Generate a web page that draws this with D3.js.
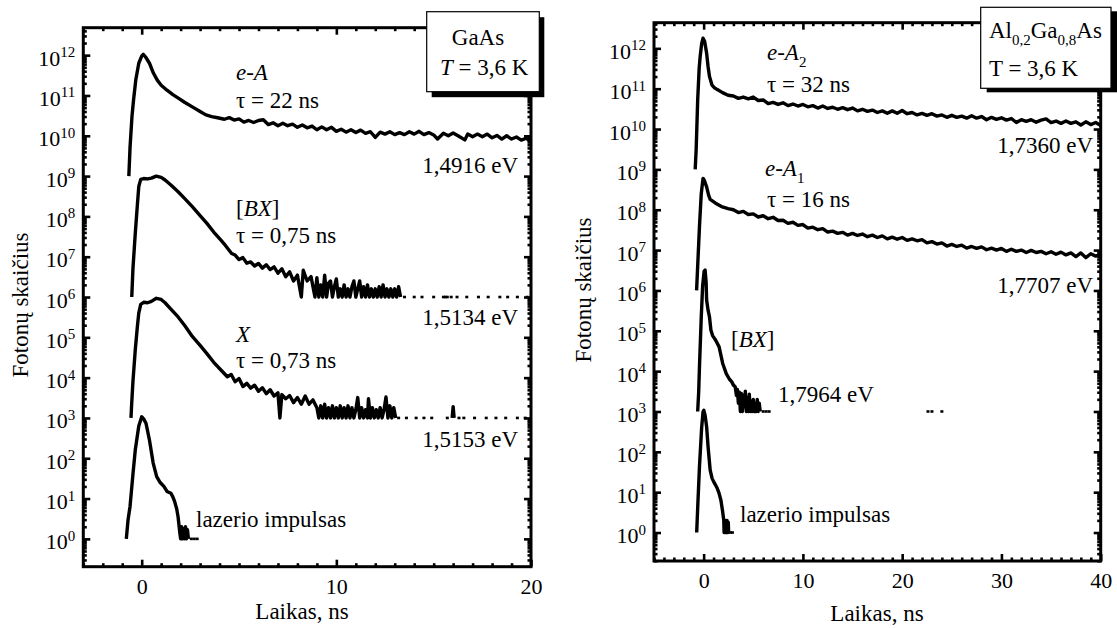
<!DOCTYPE html>
<html><head><meta charset="utf-8">
<script src="https://cdn.jsdelivr.net/npm/d3@7"></script>
<style>
body{margin:0;background:#fff}
svg{display:block}
</style>
</head><body>
<svg id="c" width="1117" height="628"></svg>
<script>
// ================= DATA =================
const yDecades = [0,1,2,3,4,5,6,7,8,9,10,11,12];
const gaasXTicks = [0,10,20];
const algaXTicks = [0,10,20,30,40];

// ---- GaAs, e-A (1,4916 eV) ----
const gaasEA_t = [-0.66,-0.6,-0.5,-0.42,-0.3,-0.15,0,0.08,0.2,0.4,0.6,0.8,1.0,1.3,1.6,1.9,2.2,2.6,3.0,3.3,3.6,3.9,
 4.25,4.5,4.75,5.0,5.25,5.5,5.75,6.0,6.25,6.5,6.75,7.0,7.25,7.5,7.75,8.0,8.25,8.5,8.75,9.0,9.25,9.5,9.75,10.0,
 10.25,10.5,10.75,11.0,11.25,11.5,11.75,12.0,12.25,12.5,12.75,13.0,13.25,13.5,13.75,14.0,14.25,14.5,14.75,15.0,
 15.2,15.5,15.75,16.0,16.25,16.6,16.75,17.0,17.25,17.5,17.75,18.0,18.25,18.5,18.75,19.0,19.25,19.5,19.75,20.0];
const gaasEA_v = [1e9,5e9,3e10,7.6e10,2.5e11,6.3e11,9.5e11,1.05e12,9e11,6.3e11,3.6e11,2.4e11,1.8e11,1.35e11,1.05e11,8.5e10,6.8e10,5.2e10,4.0e10,3.3e10,3.0e10,2.8e10,
 2.57e10,2.82e10,2.45e10,2.63e10,2.19e10,2.4e10,2.14e10,2.4e10,2.5e10,1.9e10,2.1e10,1.78e10,2.04e10,1.78e10,1.95e10,1.62e10,1.86e10,1.58e10,1.74e10,1.41e10,1.66e10,1.41e10,1.62e10,1.29e10,
 1.45e10,1.23e10,1.41e10,1.2e10,1.38e10,1.15e10,1.26e10,9.1e9,1.23e10,1.1e10,1.26e10,1.07e10,1.2e10,1.07e10,1.26e10,1.1e10,1.29e10,1.07e10,1.2e10,1.05e10,
 8.3e9,1.15e10,1.0e10,1.17e10,1.0e10,7.9e9,1.1e10,9.5e9,1.1e10,9.5e9,1.1e10,8.9e9,1.02e10,8.3e9,1.0e10,8.3e9,9.3e9,7.8e9,8.7e9,7.1e9];

// ---- GaAs, [BX] (1,5134 eV) ----
const gaasBX_t = [-0.51,-0.45,-0.33,-0.22,-0.15,-0.05,0.1,0.3,0.5,0.75,1.0,1.2,1.5,1.87,2.2,2.6,3.0,3.34,3.7,4.07,
 4.3,4.62,4.8,5.0,5.2,5.4,5.6,5.8,6.0,6.2,6.4,6.6,6.8,7.0,7.2,7.4,7.6,7.8,8.0,8.2,8.3,8.5,8.7,8.9,
 9.0,9.1,9.2,9.3,9.4,9.5,9.6,9.7,9.8,9.9,10.0,10.1,10.2,10.3,10.4,10.5,10.6,10.7,10.8,10.9,11.0,11.1,11.2,11.3,11.4,
 11.5,11.6,11.7,11.8,11.9,12.0,12.1,12.2,12.3,12.4,12.5,12.6,12.7,12.8,12.9,13.0,13.1,13.2,13.3];
const gaasBX_v = [1e6,5e6,3.8e7,2e8,5.5e8,8.3e8,8.7e8,8.5e8,8.9e8,1e9,9.3e8,8e8,6e8,4.1e8,2.8e8,1.74e8,1.05e8,6.8e7,4.1e7,2.57e7,
 1.9e7,1.2e7,1.1e7,8.5e6,9.5e6,6.9e6,7.4e6,5.9e6,6.8e6,5.2e6,6.3e6,4.8e6,5.6e6,3.9e6,5e6,3.2e6,4.2e6,2.5e6,3.5e6,1e6,4.6e6,2.5e6,3.2e6,1e6,
 3e6,1e6,2e6,1e6,3.5e6,1e6,2.2e6,2.5e6,1e6,1.8e6,2.8e6,1e6,1.6e6,1e6,2e6,1e6,1.6e6,1e6,1.8e6,2.5e6,1e6,1.6e6,2.5e6,1e6,1.8e6,
 1e6,2e6,1e6,1.6e6,1e6,1.6e6,1e6,1.8e6,1e6,2e6,1e6,1.6e6,1e6,1.6e6,1e6,1.6e6,1e6,1.8e6,1e6];
const gaasBX_floor = 1e6;
const gaasBX_dots = [13.5,14.0,14.4,15.0,15.5,15.6,15.7,15.9,16.2,16.7,17.3,17.8,18.4,18.8,19.3,19.8];

// ---- GaAs, X (1,5153 eV) ----
const gaasX_t = [-0.55,-0.52,-0.45,-0.33,-0.22,-0.15,-0.05,0.1,0.3,0.5,0.75,1.0,1.2,1.5,1.87,2.2,2.6,3.0,3.34,3.7,
 4.07,4.4,4.6,4.8,5.0,5.2,5.4,5.6,5.8,6.0,6.2,6.4,6.6,6.8,7.0,7.1,7.2,7.4,7.6,7.8,8.0,8.2,8.4,8.6,8.8,
 9.0,9.1,9.2,9.3,9.4,9.5,9.6,9.7,9.8,9.9,10.0,10.1,10.2,10.3,10.4,10.5,10.6,10.7,10.8,10.9,11.0,11.1,11.2,11.3,11.4,11.5,11.6,
 11.65,11.75,11.85,11.95,12.05,12.15,12.25,12.35,12.45,12.55,12.65,12.75,12.85,12.95,13.05];
const gaasX_v = [1e3,2e3,8e3,4.9e4,1.9e5,4e5,6.6e5,7.4e5,7.2e5,7.8e5,9.3e5,8.7e5,7.2e5,5e5,3.2e5,2e5,1.05e5,6.3e4,4e4,2.4e4,
 1.55e4,1.05e4,1.2e4,7.9e3,9.5e3,6e3,7.2e3,5.5e3,6.5e3,4.6e3,5.6e3,4e3,5e3,3.5e3,4.2e3,1e3,3.8e3,3e3,3.6e3,2.4e3,3.2e3,2.2e3,3.5e3,2.2e3,2.8e3,
 1.8e3,1e3,2e3,1e3,2.2e3,1e3,1.8e3,1e3,2e3,1e3,1.8e3,1e3,2e3,1e3,1.8e3,1e3,2e3,1e3,1.8e3,1e3,1.6e3,3.2e3,1e3,1.8e3,1e3,1.6e3,1e3,
 3e3,1e3,1.8e3,1e3,1.6e3,1e3,1.8e3,1e3,1.6e3,3.3e3,1e3,2e3,1e3,1.8e3,1e3];
const gaasX_floor = 1e3;
const gaasX_dots = [13.2,13.6,14.1,14.5,14.9,15.7,16.3,16.55,17.1,17.7,18.2,18.7,19.3,19.7];
const gaasX_spike_t = [15.95,16.0,16.05];
const gaasX_spike_v = [1e3,1.9e3,1e3];

// ---- GaAs, laser pulse ----
const gaasLas_t = [-0.79,-0.7,-0.6,-0.45,-0.33,-0.15,0,0.1,0.22,0.4,0.59,0.77,0.95,1.14,1.3,1.5,1.6,1.69,1.8,1.87,1.96,2.0,2.05,2.1,2.15,2.2,2.25,2.3,2.35,2.4];
const gaasLas_v = [1,3,6.3,40,160,630,1070,950,740,280,76,35,25,20,15,13.5,11,8.5,5.5,3.5,1.4,1,2,1,1.8,1,2,1,1.7,1];
const gaasLas_floor = 1;
const gaasLas_dots = [2.55,2.7,2.85];

// ---- AlGaAs, e-A2 (1,7360 eV) ----
const algaEA2_t = [-0.85,-0.75,-0.6,-0.45,-0.35,-0.2,-0.06,0.1,0.3,0.45,0.59,0.84,1.1,1.38,1.9,2.46,
 3.0,3.5,4.0,4.5,5.0,5.5,6.0,6.5,7.0,7.5,8.0,8.5,9.0,9.5,10.0,10.5,11.0,11.5,12.0,12.5,13.0,13.5,14.0,14.5,15.0,15.5,16.0,16.5,17.0,17.5,
 18.0,18.5,19.0,19.5,20.0,20.5,21.0,21.5,22.0,22.5,23.0,23.5,24.0,24.5,25.0,25.5,26.0,26.5,27.0,27.5,28.0,28.5,29.0,29.5,30.0,30.5,31.0,31.5,32.0,32.5,
 33.0,33.5,34.0,34.5,35.0,35.5,36.0,36.5,37.0,37.5,38.0,38.5,39.0,39.5,40.0];
const algaEA2_v = [1e9,3.2e9,5.2e10,3.2e11,6.2e11,1.3e12,1.78e12,1.5e12,7.6e11,3.5e11,2e11,1.23e11,1.05e11,9.5e10,8e10,6.9e10,
 6.6e10,5.75e10,6.2e10,5.6e10,6.2e10,5.1e10,5.25e10,4.27e10,4.57e10,4.07e10,4.47e10,3.8e10,4.17e10,3.72e10,4.07e10,3.55e10,3.8e10,3.31e10,3.72e10,3.24e10,
 3.47e10,3.09e10,3.39e10,3.02e10,3.31e10,2.82e10,3.09e10,2.75e10,2.95e10,2.57e10,2.82e10,2.45e10,2.82e10,2.45e10,2.88e10,2.4e10,2.57e10,2.24e10,2.45e10,2.19e10,
 2.4e10,2.09e10,2.24e10,1.95e10,2.19e10,1.95e10,2.09e10,1.86e10,2.14e10,1.86e10,2.04e10,1.7e10,1.95e10,1.74e10,1.9e10,1.66e10,1.82e10,1.45e10,1.7e10,1.55e10,
 1.7e10,1.48e10,1.66e10,1.78e10,1.45e10,1.58e10,1.38e10,1.58e10,1.38e10,1.51e10,1.26e10,1.51e10,1.29e10,1.45e10,1.23e10];

// ---- AlGaAs, e-A1 (1,7707 eV) ----
const algaEA1_t = [-0.71,-0.6,-0.42,-0.24,-0.06,0.05,0.3,0.5,0.66,1.2,1.8,2.46,
 3.0,3.5,4.0,4.5,5.0,5.5,6.0,6.5,7.0,7.5,8.0,8.5,9.0,9.5,10.0,10.5,11.0,11.5,12.0,12.5,13.0,13.5,14.0,14.5,15.0,15.5,16.0,16.5,17.0,17.5,
 18.0,18.5,19.0,19.5,20.0,20.5,21.0,21.5,22.0,22.5,23.0,23.5,24.0,24.5,25.0,25.5,26.0,26.5,27.0,27.5,28.0,28.5,29.0,29.5,30.0,30.5,31.0,31.5,32.0,32.5,
 33.0,33.5,34.0,34.5,35.0,35.5,36.0,36.5,37.0,37.5,38.0,38.5,39.0,39.5,40.0];
const algaEA1_v = [1e6,4e6,3.8e7,2.5e8,6e8,5.5e8,3.7e8,2.3e8,1.8e8,1.45e8,1.2e8,1.07e8,
 1.0e8,8.5e7,9.1e7,7.6e7,7.9e7,6.6e7,7.1e7,6.0e7,6.5e7,5.4e7,5.5e7,4.6e7,4.9e7,4.1e7,4.3e7,3.5e7,3.7e7,3.2e7,3.4e7,2.8e7,
 2.95e7,2.6e7,2.75e7,2.35e7,2.6e7,2.3e7,2.5e7,2.15e7,2.35e7,2.05e7,2.25e7,1.9e7,2.1e7,1.86e7,2.05e7,1.74e7,1.9e7,1.7e7,1.82e7,1.51e7,
 1.62e7,1.41e7,1.51e7,1.26e7,1.38e7,1.23e7,1.32e7,1.12e7,1.23e7,1.1e7,1.2e7,1.02e7,1.12e7,1.0e7,1.1e7,9.3e6,1.05e7,9.3e6,1.0e7,8.7e6,
 9.8e6,8.7e6,9.3e6,8.1e6,9.1e6,7.9e6,8.9e6,7.6e6,8.5e6,6.9e6,8.5e6,6.5e6,8.1e6,7.1e6,7.9e6];

// ---- AlGaAs, [BX] (1,7964 eV) ----
const algaBX_t = [-0.6,-0.5,-0.42,-0.24,-0.1,0.05,0.15,0.25,0.3,0.45,0.59,0.73,0.9,1.2,1.56,1.92,2.28,2.6,2.82,3.0,
 3.18,3.3,3.4,3.5,3.6,3.7,3.8,3.9,4.0,4.1,4.2,4.3,4.4,4.5,4.6,4.7,4.8,4.9,5.0,5.1,5.3,5.4,5.5,5.6,5.7];
const algaBX_v = [1e3,3e3,1.26e4,2.2e5,1.3e6,3e6,3.2e6,1.6e6,5.8e5,3.2e5,2.2e5,1.05e5,7.6e4,5.9e4,4e4,1.55e4,8.7e3,6.3e3,5.5e3,4.5e3,
 4.1e3,2.5e3,3.5e3,1.6e3,3e3,1e3,2.8e3,1e3,2.5e3,1.3e3,3.2e3,1e3,2.2e3,1e3,2.7e3,1e3,1.8e3,1e3,2e3,1e3,1e3,2e3,1e3,1.6e3,1e3];
const algaBX_floor = 1e3;
const algaBX_dots = [6.0,6.3,6.6,22.6,23.0,24.0];

// ---- AlGaAs, laser pulse ----
const algaLas_t = [-0.7,-0.6,-0.42,-0.2,-0.06,0.02,0.15,0.3,0.45,0.66,0.85,1.02,1.2,1.38,1.55,1.74,1.9,2.03,2.06,2.12,2.18,2.24,2.3,2.36,2.42,2.48,2.52];
const algaLas_v = [1,4,43,400,980,1070,800,420,130,35,22,18,15,12.3,9.5,6.3,3.5,2,1,2,1,2,1,2,1,1.8,1];
const algaLas_floor = 1;
const algaLas_dots = [2.7,2.9];

// ================= DRAWING =================
const svg = d3.select("#c");
const FONT = '"Liberation Serif", "Times New Roman", Times, serif';

function drawText(g, s) {
  const t = g.append("text").attr("x", s.x).attr("y", s.y)
    .style("font-family", FONT).style("fill", "#000")
    .attr("font-size", s.size || 23).attr("text-anchor", s.anchor || "start");
  if (s.rotate) t.attr("transform", `rotate(-90,${s.x},${s.y})`);
  let shift = 0;
  s.parts.forEach(p => {
    const sp = t.append("tspan").text(p[0]);
    if (p[1] === "i") sp.style("font-style", "italic");
    if (p[1] === "sub") { sp.attr("font-size", 15).attr("dy", 7 - shift); shift = 7; }
    else if (shift) { sp.attr("dy", -shift); shift = 0; }
  });
  return t;
}

function panel(P) {
  const g = svg.append("g");
  const x = d3.scaleLinear().domain(P.xDomain).range([P.left, P.right]);
  const y = d3.scaleLog().domain(P.yDomain).range([P.bottom, P.top]);

  const xMinor = d3.range(Math.ceil(P.xDomain[0]), Math.floor(P.xDomain[1]) + 1).filter(v => !P.xTicks.includes(v));
  const yMajor = yDecades.map(k => Math.pow(10, k));
  const yMinor = [];
  for (let k = -1; k <= 12; k++) for (let m = 2; m <= 9; m++) {
    const v = m * Math.pow(10, k);
    if (v > P.yDomain[0] && v < P.yDomain[1]) yMinor.push(v);
  }

  const tickAxis = (fn, scale, vals, len, tx, ty) => {
    const a = g.append("g").attr("transform", `translate(${tx},${ty})`)
      .call(fn(scale).tickValues(vals).tickSize(-len).tickFormat(""));
    a.select(".domain").remove();
    a.selectAll(".tick line").attr("stroke", "#000").attr("stroke-width", 2.6);
    return a;
  };
  tickAxis(d3.axisBottom, x, xMinor, 3.5, 0, P.bottom);
  tickAxis(d3.axisTop, x, xMinor, 3.5, 0, P.top);
  tickAxis(d3.axisLeft, y, yMinor, 3.5, P.left, 0);
  tickAxis(d3.axisRight, y, yMinor, 3.5, P.right, 0);
  tickAxis(d3.axisTop, x, P.xTicks, 7, 0, P.top);
  tickAxis(d3.axisRight, y, yMajor, 7, P.right, 0);

  // bottom labelled axis
  const bx = g.append("g").attr("transform", `translate(0,${P.bottom})`)
    .call(d3.axisBottom(x).tickValues(P.xTicks).tickSize(-7).tickPadding(11.5).tickFormat(d3.format("d")));
  bx.select(".domain").remove();
  bx.attr("font-size", 22).style("font-family", FONT);
  bx.selectAll(".tick line").attr("stroke", "#000").attr("stroke-width", 2.6);
  bx.selectAll(".tick text").style("font-family", FONT).style("fill", "#000");

  // left labelled axis with powers of ten
  const ly = g.append("g").attr("transform", `translate(${P.left},0)`)
    .call(d3.axisLeft(y).tickValues(yMajor).tickSize(-7).tickPadding(8).tickFormat(""));
  ly.select(".domain").remove();
  ly.attr("font-size", 22).style("font-family", FONT);
  ly.selectAll(".tick line").attr("stroke", "#000").attr("stroke-width", 2.6);
  ly.selectAll(".tick text").each(function(d) {
    const t = d3.select(this).attr("dy", null).attr("y", 10)
      .style("font-family", FONT).style("fill", "#000");
    t.append("tspan").text("10");
    t.append("tspan").attr("dy", -8.5).attr("font-size", 15).text(Math.round(Math.log10(d)));
  });

  // frame
  g.append("rect").attr("x", P.left).attr("y", P.top)
    .attr("width", P.right - P.left).attr("height", P.bottom - P.top)
    .attr("fill", "none").attr("stroke", "#000").attr("stroke-width", 3);

  // curves
  const line = d3.line().x(d => x(d[0])).y(d => y(d[1]));
  P.curves.forEach(c => {
    g.append("path").attr("d", line(d3.zip(c[0], c[1])))
      .attr("fill", "none").attr("stroke", "#000").attr("stroke-width", 3.4)
      .attr("stroke-linejoin", "round");
  });
  P.dots.forEach(dd => {
    g.append("g").selectAll("line").data(dd[1]).join("line")
      .attr("x1", t => x(t) - 1.5).attr("x2", t => x(t) + 1.5)
      .attr("y1", y(dd[0])).attr("y2", y(dd[0]))
      .attr("stroke", "#000").attr("stroke-width", 2.6);
  });

  // annotations
  P.labels.forEach(s => drawText(g, s));

  // axis titles
  drawText(g, {x: P.xTitle[0], y: P.xTitle[1], anchor: "middle", parts: [["Laikas, ns"]]});
  drawText(g, {x: P.yTitle[0], y: P.yTitle[1], anchor: "middle", rotate: true, parts: [["Fotonų skaičius"]]});

  // legend box with shadow
  const b = P.box;
  g.append("rect").attr("x", b.x + b.sx).attr("y", b.y + b.sy).attr("width", b.w).attr("height", b.h).attr("fill", "#000");
  g.append("rect").attr("x", b.x).attr("y", b.y).attr("width", b.w).attr("height", b.h)
    .attr("fill", "#fff").attr("stroke", "#000").attr("stroke-width", 1.2);
  b.lines.forEach(s => drawText(g, s));
}

panel({
  xDomain: [-3, 20], yDomain: [0.204, 4.8e12], xTicks: gaasXTicks,
  left: 83.3, right: 531, top: 27.7, bottom: 566.7,
  curves: [[gaasEA_t, gaasEA_v], [gaasBX_t, gaasBX_v], [gaasX_t, gaasX_v], [gaasX_spike_t, gaasX_spike_v], [gaasLas_t, gaasLas_v]],
  dots: [[gaasBX_floor, gaasBX_dots], [gaasX_floor, gaasX_dots], [gaasLas_floor, gaasLas_dots]],
  labels: [
    {x: 236, y: 80, parts: [["e-A", "i"]]},
    {x: 236, y: 108, parts: [["τ = 22 ns"]]},
    {x: 518, y: 173, anchor: "end", parts: [["1,4916 eV"]]},
    {x: 236, y: 216, parts: [["["], ["BX", "i"], ["]"]]},
    {x: 236, y: 243, parts: [["τ = 0,75 ns"]]},
    {x: 518, y: 325, anchor: "end", parts: [["1,5134 eV"]]},
    {x: 236, y: 342, parts: [["X", "i"]]},
    {x: 236, y: 368, parts: [["τ = 0,73 ns"]]},
    {x: 518, y: 447, anchor: "end", parts: [["1,5153 eV"]]},
    {x: 196, y: 527, parts: [["lazerio impulsas"]]}
  ],
  xTitle: [302, 619], yTitle: [28, 305],
  box: {x: 426.7, y: 11.7, w: 112.6, h: 80, sx: 5, sy: 5.5, lines: [
    {x: 478, y: 45, anchor: "middle", parts: [["GaAs"]]},
    {x: 440, y: 75, parts: [["T", "i"], [" = 3,6 K"]]}
  ]}
});

panel({
  xDomain: [-5, 40], yDomain: [0.197, 4.32e12], xTicks: algaXTicks,
  left: 654, right: 1100.7, top: 22.7, bottom: 561,
  curves: [[algaEA2_t, algaEA2_v], [algaEA1_t, algaEA1_v], [algaBX_t, algaBX_v], [algaLas_t, algaLas_v]],
  dots: [[algaBX_floor, algaBX_dots], [algaLas_floor, algaLas_dots]],
  labels: [
    {x: 767, y: 60, parts: [["e-A", "i"], ["2", "sub"]]},
    {x: 767, y: 92, parts: [["τ = 32 ns"]]},
    {x: 1093, y: 153, anchor: "end", parts: [["1,7360 eV"]]},
    {x: 765, y: 176, parts: [["e-A", "i"], ["1", "sub"]]},
    {x: 767, y: 207, parts: [["τ = 16 ns"]]},
    {x: 1093, y: 293, anchor: "end", parts: [["1,7707 eV"]]},
    {x: 731, y: 347, parts: [["["], ["BX", "i"], ["]"]]},
    {x: 778, y: 402, parts: [["1,7964 eV"]]},
    {x: 740, y: 522, parts: [["lazerio impulsas"]]}
  ],
  xTitle: [877, 621], yTitle: [591, 290],
  box: {x: 980.7, y: 7.3, w: 130.3, h: 81, sx: 6, sy: 4, lines: [
    {x: 989, y: 37.5, parts: [["Al"], ["0,2", "sub"], ["Ga"], ["0,8", "sub"], ["As"]]},
    {x: 989, y: 76, parts: [["T = 3,6 K"]]}
  ]}
});
</script>
</body></html>
